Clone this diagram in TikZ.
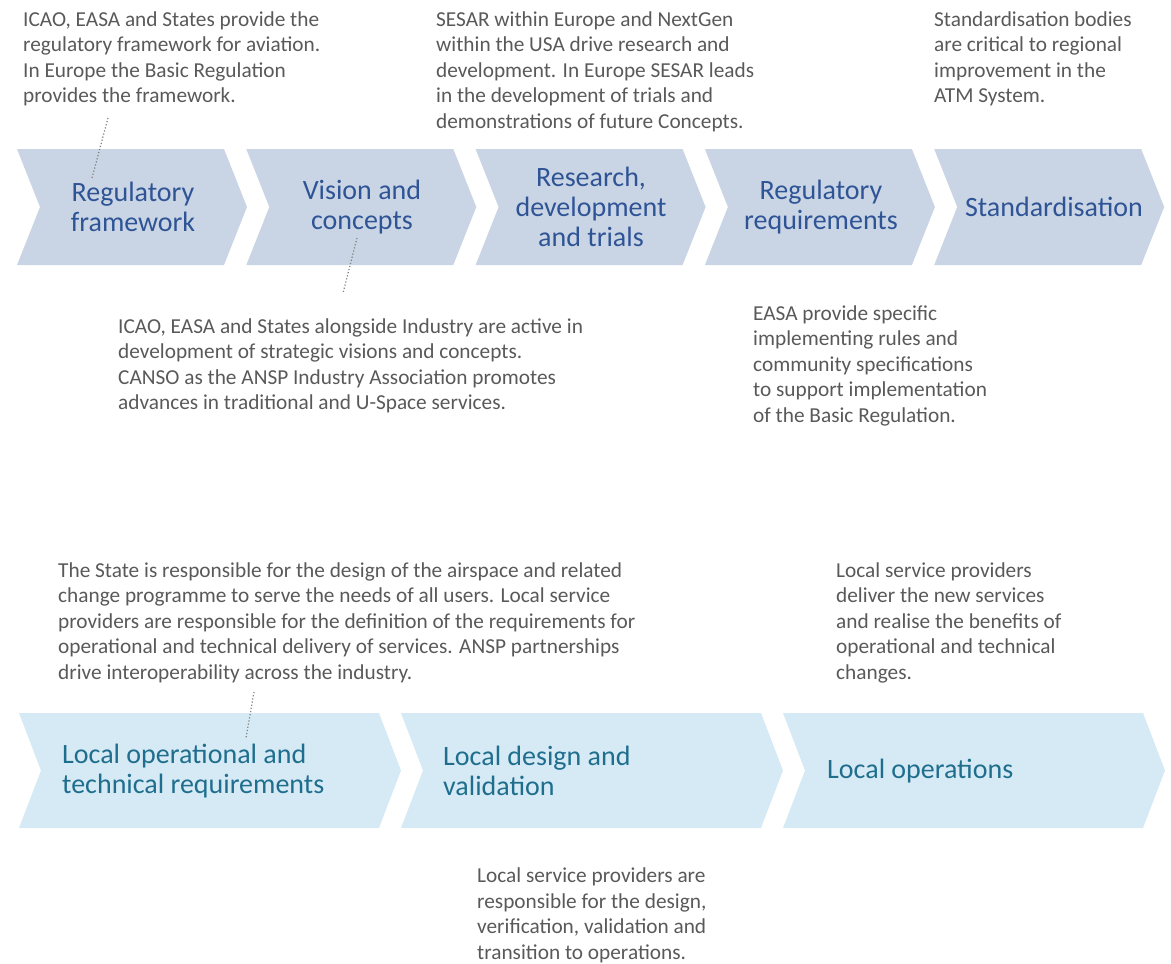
\documentclass[tikz,border=0pt]{standalone}
\usepackage{fontspec}
\setmainfont{Carlito}
\definecolor{topfill}{HTML}{C9D5E4}
\definecolor{toptext}{HTML}{2F5496}
\definecolor{lowfill}{HTML}{D5EAF4}
\definecolor{lowtext}{HTML}{1F6E8E}
\definecolor{bodytext}{HTML}{595959}
\tikzset{
  topchev/.style={fill=topfill},
  lowchev/.style={fill=lowfill},
  toplabel/.style={text=toptext,align=center,inner sep=0,
    font=\fontsize{28}{30}\selectfont},
  lowlabel/.style={text=lowtext,align=left,inner sep=0,anchor=west,
    font=\fontsize{28}{30}\selectfont},
  % notes are placed by the baseline of their last line
  note/.style={text=bodytext,align=left,inner sep=0,anchor=base west,
    font=\fontsize{21.3}{25.6}\selectfont},
  pointer/.style={gray,dotted,line width=1.2pt}
}
\begin{document}
\begin{tikzpicture}[x=1pt,y=-1pt]
\useasboundingbox (0,0) rectangle (1171,964);
% upper row of chevrons
\foreach \x in {17,246.3,475.6,704.9,934.2}
  \fill[topchev] (\x,149) -- ++(207,0) -- ++(23,58) -- ++(-23,58)
    -- ++(-207,0) -- ++(23,-58) -- cycle;
\node[toplabel] (regfw) at (133,207) {Regulatory\\framework};
\node[toplabel] (vision) at (362,207) {Vision and\\concepts};
\node[toplabel] (research) at (591,207) {Research,\\development\\and trials};
\node[toplabel] (regreq) at (821,207) {Regulatory\\requirements};
\node[toplabel] (stand) at (1054,207) {Standardisation};
% lower row of chevrons
\foreach \x in {19,401,783}
  \fill[lowchev] (\x,713) -- ++(360,0) -- ++(22,57.5) -- ++(-22,57.5)
    -- ++(-360,0) -- ++(22,-57.5) -- cycle;
\node[lowlabel] (localreq) at (62,771) {Local operational and\\technical requirements};
\node[lowlabel] (localdes) at (443,771) {Local design and\\validation};
\node[lowlabel] (localops) at (827,771) {Local operations};
% notes
\node[note] (txtregfw) at (23,102.8) {ICAO, EASA and States provide the\\
  regulatory framework for aviation.\\In Europe the Basic Regulation\\
  provides the framework.};
\node[note] (txtresearch) at (436,128.4) {SESAR within Europe and NextGen\\
  within the USA drive research and\\development.  In Europe SESAR leads\\
  in the development of trials and\\demonstrations of future Concepts.};
\node[note] (txtstand) at (934,102.8) {Standardisation bodies\\
  are critical to regional\\improvement in the\\ATM System.};
\node[note] (txtvision) at (118,409.8) {ICAO, EASA and States alongside Industry are active in\\
  development of strategic visions and concepts.\\
  CANSO as the ANSP Industry Association promotes\\
  advances in traditional and U-Space services.};
\node[note] (txtregreq) at (753,422.4) {EASA provide specific\\
  implementing rules and\\community specifications\\
  to support implementation\\of the Basic Regulation.};
\node[note] (txtlocalreq) at (58,679.4) {The State is responsible for the design of the airspace and related\\
  change programme to serve the needs of all users. Local service\\
  providers are responsible for the definition of the requirements for\\
  operational and technical delivery of services. ANSP partnerships\\
  drive interoperability across the industry.};
\node[note] (txtlocalops) at (836,679.4) {Local service providers\\
  deliver the new services\\and realise the benefits of\\
  operational and technical\\changes.};
\node[note] (txtlocaldes) at (477,959.5) {Local service providers are\\
  responsible for the design,\\verification, validation and\\
  transition to operations.};
% dotted pointers
\coordinate (p1a) at (108,118); \coordinate (p1b) at (92,178);
\coordinate (p2a) at (357,238); \coordinate (p2b) at (343,293);
\coordinate (p3a) at (254,692); \coordinate (p3b) at (246,738);
\draw[pointer] (p1a) -- (p1b);
\draw[pointer] (p2a) -- (p2b);
\draw[pointer] (p3a) -- (p3b);
\end{tikzpicture}
\end{document}
